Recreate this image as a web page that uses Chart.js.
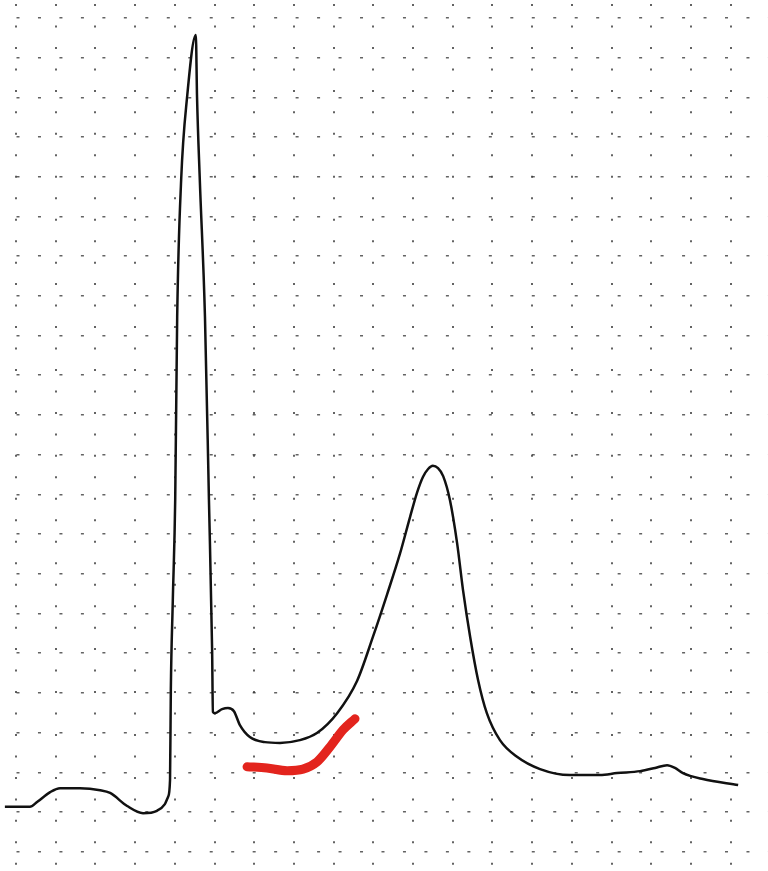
<!DOCTYPE html>
<html>
<head>
<meta charset="utf-8">
<script src="https://cdn.jsdelivr.net/npm/chart.js@4"></script>
<style>
  html, body { margin: 0; padding: 0; background: #fff; }
</style>
</head>
<body>
<canvas id="ecg" width="768" height="871"></canvas>
<script>
// time / amplitude in large-grid-box units
var traceX = [-0.28, 0.35, 0.53, 0.86, 1.11, 1.61, 2.12, 2.37, 2.80, 3.20, 3.55, 3.75, 3.83, 3.88,
  3.90, 3.95, 4.01, 4.06, 4.16, 4.31, 4.53, 4.56, 4.63, 4.76, 4.86, 4.94, 4.96, 5.01, 5.19, 5.34,
  5.49, 5.64, 5.89, 6.27, 6.65, 7.15, 7.58, 8.09, 8.59, 8.99, 9.35, 9.67, 9.92, 10.10, 10.25,
  10.38, 10.50, 10.63, 10.76, 10.93, 11.11, 11.26, 11.44, 11.64, 11.86, 12.19, 12.62, 13.20, 13.95,
  14.71, 15.14, 15.72, 16.10, 16.40, 16.60, 16.80, 17.30, 18.19];
var traceY = [1.13, 1.13, 1.25, 1.50, 1.60, 1.60, 1.55, 1.48, 1.15, 0.97, 1.03, 1.20, 1.38, 1.81,
  4.07, 6.34, 8.86, 13.47, 16.92, 19.01, 20.57, 19.01, 16.92, 13.47, 8.86, 5.08, 3.52, 3.49, 3.59, 3.62,
  3.54, 3.19, 2.89, 2.76, 2.74, 2.81, 2.99, 3.49, 4.30, 5.41, 6.49, 7.50, 8.41, 9.04, 9.44,
  9.64, 9.72, 9.66, 9.46, 8.86, 7.78, 6.59, 5.41, 4.32, 3.49, 2.81, 2.39, 2.08, 1.93,
  1.93, 1.98, 2.03, 2.11, 2.18, 2.11, 1.98, 1.83, 1.68];

// red marker under the ST segment
var markX = [5.82, 6.32, 6.83, 7.23, 7.58, 7.91, 8.24, 8.54];
var markY = [2.14, 2.11, 2.04, 2.08, 2.26, 2.64, 3.07, 3.35];

var xTicks = [0, 1, 2, 3, 4, 5, 6, 7, 8, 9, 10, 11, 12, 13, 14, 15, 16, 17, 18];
var yTicks = [0, 1, 2, 3, 4, 5, 6, 7, 8, 9, 10, 11, 12, 13, 14, 15, 16, 17, 18, 19, 20, 21];

function pts(xs, ys) {
  return xs.map(function (x, i) { return { x: x, y: ys[i] }; });
}

var ctx = document.getElementById('ecg').getContext('2d');
var chart = new Chart(ctx, {
  type: 'line',
  data: {
    datasets: [{
      label: 'ECG',
      data: pts(traceX, traceY),
      borderColor: '#111',
      borderWidth: 2.5,
      borderJoinStyle: 'round',
      pointRadius: 0,
      cubicInterpolationMode: 'monotone',
      fill: false
    }, {
      label: 'marker',
      data: pts(markX, markY),
      borderColor: '#e3241d',
      borderWidth: 9,
      borderCapStyle: 'round',
      borderJoinStyle: 'round',
      pointRadius: 0,
      cubicInterpolationMode: 'monotone',
      fill: false
    }]
  },
  options: {
    responsive: false,
    animation: false,
    layout: { padding: 0 },
    plugins: { legend: { display: false }, tooltip: { enabled: false } },
    scales: {
      x: {
        type: 'linear',
        min: -0.403,
        max: 18.942,
        afterBuildTicks: function (s) { s.ticks = xTicks.map(function (v) { return { value: v }; }); },
        ticks: { display: false },
        grid: { color: 'rgba(60,60,60,0.8)', lineWidth: 2, drawTicks: false },
        border: { display: false, dash: [2, 19.47], dashOffset: 17.47 }
      },
      y: {
        type: 'linear',
        min: -0.486,
        max: 21.453,
        afterBuildTicks: function (s) { s.ticks = yTicks.map(function (v) { return { value: v }; }); },
        ticks: { display: false },
        grid: { color: 'rgba(60,60,60,0.8)', lineWidth: 1.6, drawTicks: false },
        border: { display: false, dash: [3, 18.47], dashOffset: 4.97 }
      }
    }
  }
});
</script>
</body>
</html>
